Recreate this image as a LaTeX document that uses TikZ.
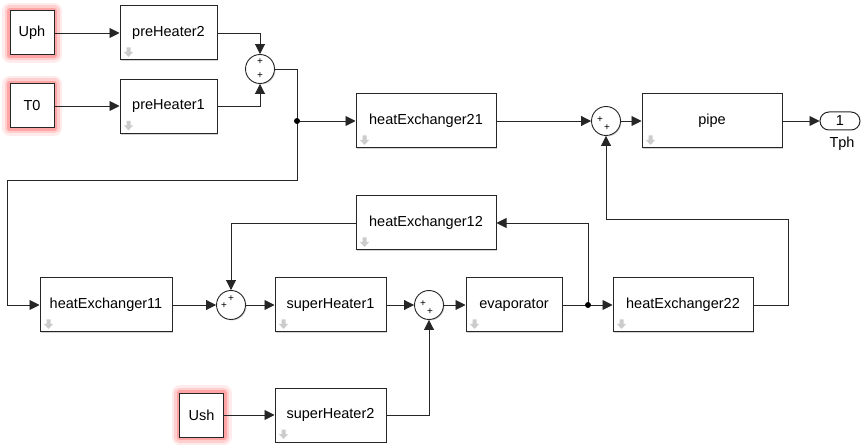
\documentclass[tikz,border=0pt]{standalone}
\usepackage{fontspec}
\setmainfont{Liberation Sans}
\usetikzlibrary{arrows.meta,shadows,calc}

\tikzset{
  base/.style={draw=black!85,line width=1pt,fill=white,
    font=\fontsize{14.5}{17}\selectfont},
  block/.style={base,minimum height=54pt,
    drop shadow={shadow xshift=1.2pt,shadow yshift=-1.2pt,opacity=.35}},
  inport/.style={base,minimum width=44pt,minimum height=44pt,
    preaction={draw=red,opacity=.08,line width=16pt,line join=round},
    preaction={draw=red,opacity=.12,line width=11pt,line join=round},
    preaction={draw=red,opacity=.2,line width=6pt,line join=round}},
  outport/.style={base,rounded corners=9pt,minimum width=40pt,minimum height=18pt,inner sep=0pt},
  sum/.style={circle,draw=black!85,line width=.9pt,fill=white,minimum size=29pt,inner sep=0pt,
    drop shadow={shadow xshift=1pt,shadow yshift=-1pt,opacity=.35}},
  sign/.style={font=\fontsize{10}{10}\selectfont,inner sep=0pt},
  line/.style={draw=black!85,line width=.9pt},
  wire/.style={line,-{Triangle[length=10pt,width=10pt]}},
  icon/.style={fill=gray!40}
}

\begin{document}
\begin{tikzpicture}[x=1pt,y=-1pt]
  \useasboundingbox (0,0) rectangle (865,446);

  % sources
  \node[inport] (uph) at (32,33) {Uph};
  \node[inport] (t0)  at (32,106) {T0};
  \node[inport] (ush) at (201.5,415) {Ush};

  % subsystems
  \node[block,minimum width=97pt]  (ph2)  at (168.5,33)  {preHeater2};
  \node[block,minimum width=97pt]  (ph1)  at (168.5,106.5) {preHeater1};
  \node[block,minimum width=140pt] (hx21) at (426,121) {heatExchanger21};
  \node[block,minimum width=140pt] (pipe) at (712,121) {pipe};
  \node[block,minimum width=140pt] (hx12) at (426,223) {heatExchanger12};
  \node[block,minimum width=132pt] (hx11) at (106,305) {heatExchanger11};
  \node[block,minimum width=111pt] (sh1)  at (330.5,305) {superHeater1};
  \node[block,minimum width=96pt]  (ev)   at (514,305) {evaporator};
  \node[block,minimum width=140pt] (hx22) at (683,305) {heatExchanger22};
  \node[block,minimum width=111pt] (sh2)  at (330.5,415) {superHeater2};

  % the little down arrows
  \foreach \b in {ph2,ph1,hx21,pipe,hx12,hx11,sh1,ev,hx22,sh2}
    \fill[icon] ([shift={(7pt,13pt)}]\b.south west) -- ++(4pt,0pt) -- ++(0pt,-4.5pt)
      -- ++(2.5pt,0pt) -- ++(-4.5pt,-5pt) -- ++(-4.5pt,5pt) -- ++(2.5pt,0pt) -- cycle;

  % sums
  \node[sum] (s1) at (260,69) {};
  \node[sign] at ($(s1)+(0,-7)$) {+};
  \node[sign] at ($(s1)+(0,7)$) {+};
  \node[sum] (s2) at (606,121) {};
  \node[sign] at ($(s2)+(-6,-1)$) {+};
  \node[sign] at ($(s2)+(1,7)$) {+};
  \node[sum] (s3) at (231,305) {};
  \node[sign] at ($(s3)+(-7,1)$) {+};
  \node[sign] at ($(s3)+(0,-6)$) {+};
  \node[sum] (s4) at (429,305) {};
  \node[sign] at ($(s4)+(-6,-1)$) {+};
  \node[sign] at ($(s4)+(1,7)$) {+};

  % output
  \node[outport] (out) at (840,121) {1};
  \node[font=\fontsize{14.5}{17}\selectfont] (tph) at (842,144) {Tph};

  % corners and branch points
  \coordinate (j1) at (297,121);
  \coordinate (k1) at (7,180);
  \coordinate (j2) at (588,305);
  \coordinate (k2) at (788,219);

  % wires
  \draw[wire] (uph) -- (ph2);
  \draw[wire] (t0) -- (ph1.west |- t0);
  \draw[wire] (ush) -- (sh2);
  \draw[wire] (ph2.east) -| (s1.north);
  \draw[wire] (ph1.east) -| (s1.south);
  \draw[line] (s1.east) -| (j1);
  \draw[wire] (j1) -- (hx21.west);
  \draw[wire] (j1) |- (k1) |- (hx11.west);
  \draw[wire] (hx21.east) -- (s2.west);
  \draw[wire] (s2.east) -- (pipe.west);
  \draw[wire] (pipe.east) -- (out.west);
  \draw[wire] (hx11.east) -- (s3.west);
  \draw[wire] (s3.east) -- (sh1.west);
  \draw[wire] (sh1.east) -- (s4.west);
  \draw[wire] (s4.east) -- (ev.west);
  \draw[wire] (ev.east) -- (hx22.west);
  \draw[wire] (j2) |- (hx12.east);
  \draw[wire] (hx12.west) -| (s3.north);
  \draw[wire] (sh2.east) -| (s4.south);
  \draw[wire] (hx22.east) -| (k2) -| (s2.south);
  \fill (j1) circle (3pt);
  \fill (j2) circle (3pt);
\end{tikzpicture}
\end{document}
